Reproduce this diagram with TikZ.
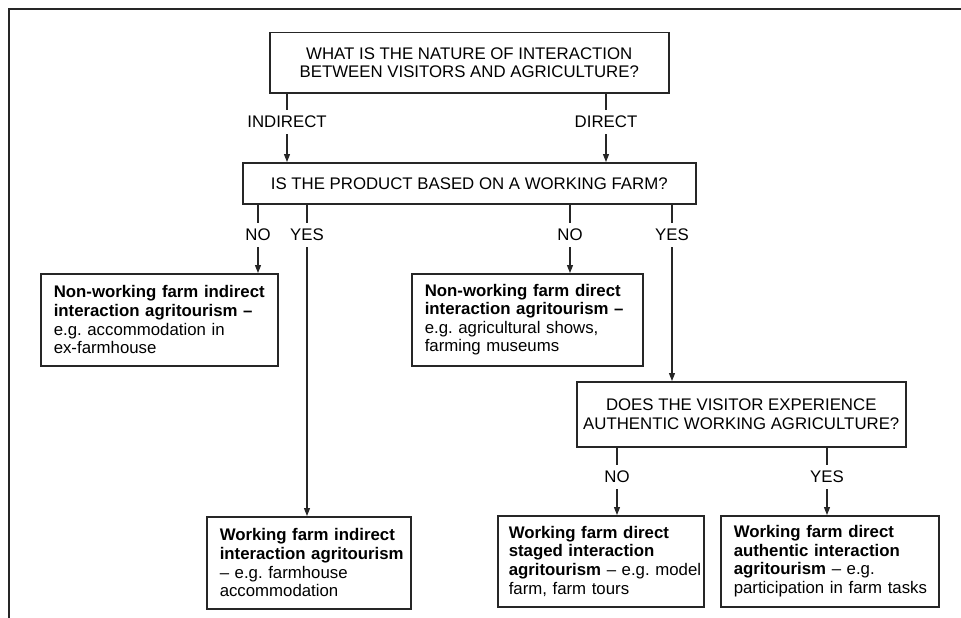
\documentclass[tikz,border=0pt]{standalone}
\usepackage{fontspec}
\setmainfont{Liberation Sans}
\usetikzlibrary{arrows.meta}
\newcommand{\ml}[1]{\mbox{#1}}
\begin{document}
\frenchspacing
\begin{tikzpicture}[x=1pt,y=-1pt,
  every node/.style={font=\fontsize{16.8}{18.6}\selectfont, text=black},
  qbox/.style={draw=black!85, line width=1.5pt, align=center, anchor=north west, inner sep=0pt},
  resbox/.style={draw=black!85, line width=1.5pt, align=left, anchor=north west, inner xsep=13pt, inner ysep=0pt},
  lbl/.style={inner xsep=2pt, inner ysep=6pt},
  ln/.style={line width=1.1pt, draw=black!85},
  arr/.style={line width=1.1pt, draw=black!85, -{Triangle[length=8pt,width=6pt]}}
]
\useasboundingbox (0,0) rectangle (961,618);
\draw[line width=1.4pt, black!85] (9,618) -- (9,9) -- (961,9);

% questions
\node[qbox, minimum width=399pt, minimum height=60pt] (q1) at (269,32)
  {WHAT IS THE NATURE OF INTERACTION\\BETWEEN VISITORS AND AGRICULTURE?};
\node[qbox, minimum width=453pt, minimum height=41pt] (q2) at (242,162)
  {IS THE PRODUCT BASED ON A WORKING FARM?};
\node[qbox, minimum width=329pt, minimum height=65pt] (q3) at (576,381)
  {DOES THE VISITOR EXPERIENCE\\AUTHENTIC WORKING AGRICULTURE?};

% results
\node[resbox, text width=211pt, minimum height=92pt] (r1) at (40,273)
  {\ml{\textbf{Non-working farm indirect}}\\\ml{\textbf{interaction agritourism –}}\\\ml{e.g. accommodation in}\\\ml{ex-farmhouse}};
\node[resbox, text width=205pt, minimum height=92pt] (r2) at (411,273)
  {\ml{\textbf{Non-working farm direct}}\\\ml{\textbf{interaction agritourism –}}\\\ml{e.g. agricultural shows,}\\\ml{farming museums}};
\node[resbox, text width=178pt, minimum height=92pt] (r3) at (206,516)
  {\ml{\textbf{Working farm indirect}}\\\ml{\textbf{interaction agritourism}}\\\ml{– e.g. farmhouse}\\\ml{accommodation}};
\node[resbox, inner xsep=11pt, text width=184pt, minimum height=91pt] (r4) at (497,515)
  {\ml{\textbf{Working farm direct}}\\\ml{\textbf{staged interaction}}\\\ml{\textbf{agritourism} – e.g. model}\\\ml{farm, farm tours}};
\node[resbox, text width=192pt, minimum height=91pt] (r5) at (720,515)
  {\ml{\textbf{Working farm direct}}\\\ml{\textbf{authentic interaction}}\\\ml{\textbf{agritourism} – e.g.}\\\ml{participation in farm tasks}};

% labels
\node[lbl] (ind) at (287,122) {INDIRECT};
\node[lbl] (dir) at (606,122) {DIRECT};
\node[lbl] (no1) at (258,235) {NO};
\node[lbl] (yes1) at (307,235) {YES};
\node[lbl] (no2) at (570,235) {NO};
\node[lbl] (yes2) at (672,235) {YES};
\node[lbl] (no3) at (617,477) {NO};
\node[lbl] (yes3) at (827,477) {YES};

% connectors
\draw[ln] (q1.south -| ind) -- (ind.north);
\draw[arr] (ind.south) -- (q2.north -| ind);
\draw[ln] (q1.south -| dir) -- (dir.north);
\draw[arr] (dir.south) -- (q2.north -| dir);

\draw[ln] (q2.south -| no1) -- (no1.north);
\draw[arr] (no1.south) -- (r1.north -| no1);
\draw[ln] (q2.south -| yes1) -- (yes1.north);
\draw[arr] (yes1.south) -- (r3.north -| yes1);
\draw[ln] (q2.south -| no2) -- (no2.north);
\draw[arr] (no2.south) -- (r2.north -| no2);
\draw[ln] (q2.south -| yes2) -- (yes2.north);
\draw[arr] (yes2.south) -- (q3.north -| yes2);

\draw[ln] (q3.south -| no3) -- (no3.north);
\draw[arr] (no3.south) -- (r4.north -| no3);
\draw[ln] (q3.south -| yes3) -- (yes3.north);
\draw[arr] (yes3.south) -- (r5.north -| yes3);
\end{tikzpicture}
\end{document}
